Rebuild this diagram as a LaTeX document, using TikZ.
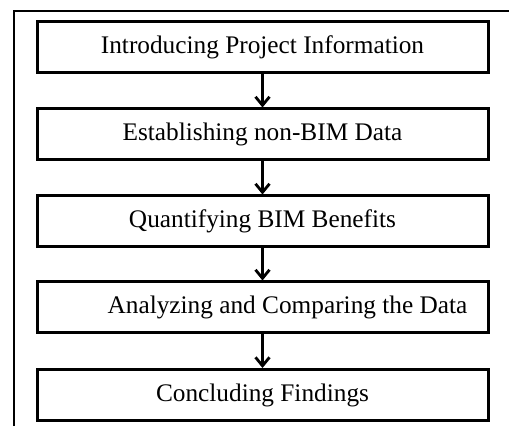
\documentclass[tikz,border=0pt]{standalone}
\usepackage{fontspec}
\setmainfont{Liberation Serif}
\usetikzlibrary{arrows.meta}
\begin{document}
\begin{tikzpicture}[x=1pt,y=1pt,
  stepbox/.style={draw, line width=3pt, minimum width=451pt, minimum height=51pt, inner sep=0pt, font=\fontsize{25.3}{30}\selectfont},
  flow/.style={line width=2.8pt, -{Straight Barb[length=8.5pt,width=14pt,line width=2.8pt]}}]
\useasboundingbox (0,0) rectangle (509,426);
\coordinate (fa) at (14,0);
\coordinate (fb) at (14,415);
\coordinate (fc) at (509,415);
\draw[line width=2pt] (fa) -- (fb) -- (fc);
\node[stepbox] (b1) at (262.5,378.5) {Introducing Project Information};
\node[stepbox] (b2) at (262.5,291.5) {Establishing non-BIM Data};
\node[stepbox] (b3) at (262.5,204.5) {Quantifying BIM Benefits};
\node[stepbox] (b4) at (262.5,118.5) {\hspace*{50pt}Analyzing and Comparing the Data};
\node[stepbox] (b5) at (262.5,31) {Concluding Findings};
\draw[flow] (b1) -- (b2);
\draw[flow] (b2) -- (b3);
\draw[flow] (b3) -- (b4);
\draw[flow] (b4) -- (b5);
\end{tikzpicture}
\end{document}
